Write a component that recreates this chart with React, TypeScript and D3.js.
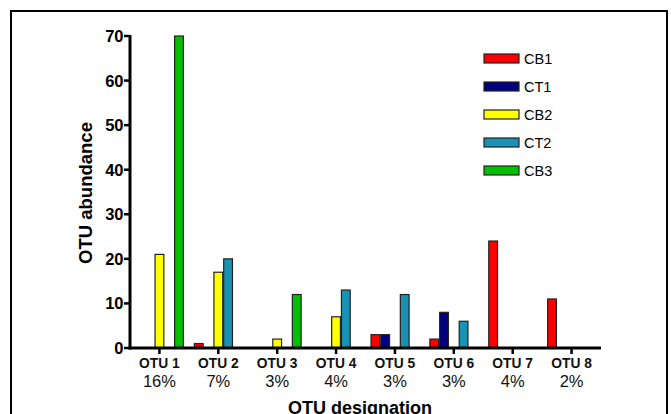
import React from "react";
import * as d3 from "d3";

const otuLabels = ["OTU 1", "OTU 2", "OTU 3", "OTU 4", "OTU 5", "OTU 6", "OTU 7", "OTU 8"];
const otuShares = ["16%", "7%", "3%", "4%", "3%", "3%", "4%", "2%"];
const seriesNames = ["CB1", "CT1", "CB2", "CT2", "CB3"];
const seriesColors = ["#ff0000", "#000080", "#ffff00", "#1792b2", "#00c000"];

const cb1 = [0, 1, 0, 0, 3, 2, 24, 11];
const ct1 = [0, 0, 0, 0, 3, 8, 0, 0];
const cb2 = [21, 17, 2, 7, 0, 0, 0, 0];
const ct2 = [0, 20, 0, 13, 12, 6, 0, 0];
const cb3 = [70, 0, 12, 0, 0, 0, 0, 0];
const seriesValues = [cb1, ct1, cb2, ct2, cb3];

const yTicks = [0, 10, 20, 30, 40, 50, 60, 70];

const W = 671;
const H = 414;
const left = 130;
const right = 601;
const top = 36;
const bottom = 348;

export default function App() {
  const x = d3.scaleBand<string>().domain(otuLabels).range([left, right]).paddingInner(0.17).paddingOuter(0.085);
  const xc = d3.scaleBand<string>().domain(otuLabels).range([left, right]);
  const inner = d3.scaleBand<string>().domain(seriesNames).range([0, x.bandwidth()]);
  const y = d3.scaleLinear().domain([0, 70]).range([bottom, top]);
  const font = "Arial, 'Liberation Sans', Helvetica, sans-serif";

  return (
    <svg width={W} height={H} style={{ position: "absolute", left: 0, top: 0 }} fontFamily={font}>
      <rect x={0} y={0} width={W} height={H} fill="#fff" />
      <rect x={11} y={11} width={656} height={H + 10} fill="none" stroke="#000" strokeWidth={2} />

      {/* bars */}
      {otuLabels.map((lab, i) => {
        const cx = xc(lab)! + xc.bandwidth() / 2;
        const gx = cx - x.bandwidth() / 2;
        return (
          <g key={lab}>
            {seriesNames.map((s, j) => {
              const v = seriesValues[j][i];
              if (!v) return null;
              return (
                <rect
                  key={s}
                  x={gx + inner(s)! + 0.5}
                  y={y(v)}
                  width={inner.bandwidth() - 1}
                  height={bottom - y(v)}
                  fill={seriesColors[j]}
                  stroke="#222"
                  strokeWidth={1.2}
                />
              );
            })}
          </g>
        );
      })}

      {/* y axis */}
      <line x1={left} x2={left} y1={top - 1} y2={bottom + 1.5} stroke="#000" strokeWidth={3} />
      {yTicks.map((t) => (
        <g key={t}>
          <line x1={left - 6} x2={left} y1={y(t)} y2={y(t)} stroke="#000" strokeWidth={2.5} />
          <text x={left - 6.5} y={y(t)} dy="0.36em" textAnchor="end" fontSize={16.5} fontWeight="bold">
            {t}
          </text>
        </g>
      ))}

      {/* x axis */}
      <line x1={left - 1.5} x2={right} y1={bottom} y2={bottom} stroke="#000" strokeWidth={3} />
      {otuLabels.map((lab, i) => {
        const cx = xc(lab)! + xc.bandwidth() / 2;
        return (
          <g key={lab}>
            <line x1={cx} x2={cx} y1={bottom} y2={bottom + 6} stroke="#000" strokeWidth={2.5} />
            <text x={cx} y={368} textAnchor="middle" fontSize={13.8} fontWeight="bold" fill="#111">
              {lab}
            </text>
            <text x={cx} y={387} textAnchor="middle" fontSize={16.5} fill="#111">
              {otuShares[i]}
            </text>
          </g>
        );
      })}

      <text x={360} y={413.5} textAnchor="middle" fontSize={18} fontWeight="bold">
        OTU designation
      </text>
      <text
        transform={`translate(92, ${193}) rotate(-90)`}
        textAnchor="middle"
        fontSize={18.5}
        fontWeight="bold"
      >
        OTU abundance
      </text>

      {/* legend */}
      {seriesNames.map((s, j) => (
        <g key={s} transform={`translate(484, ${54 + j * 28})`}>
          <rect x={0} y={0} width={35} height={9} fill={seriesColors[j]} stroke="#222" strokeWidth={1.2} />
          <text x={40} y={4.5} dy="0.36em" fontSize={14.5}>
            {s}
          </text>
        </g>
      ))}
    </svg>
  );
}
